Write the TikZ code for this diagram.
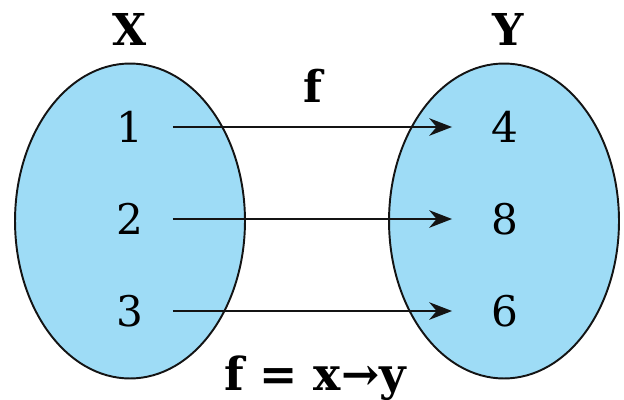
\documentclass[tikz,border=0pt]{standalone}
\usepackage{fontspec}
\setmainfont{DejaVu Serif}
\usepackage{xcolor}
\usepackage{tikz}
\usetikzlibrary{shapes.geometric, arrows.meta, positioning}
\definecolor{setblue}{RGB}{158,220,246}
\definecolor{mydark}{RGB}{20,20,20}
\tikzset{
  setnode/.style={ellipse, draw=mydark, fill=setblue, line width=1.1pt,
    minimum width=4.6cm, minimum height=6.3cm, inner sep=0pt},
  elem/.style={font=\fontsize{24}{28}\selectfont, inner sep=0pt},
  setlabel/.style={font=\fontsize{25}{30}\selectfont\bfseries, inner sep=0pt},
  maparrow/.style={-{Stealth[length=13pt, width=10pt]}, line width=1.1pt, color=mydark,
    shorten <=0.86cm, shorten >=1.06cm}
}

\begin{document}
\begin{tikzpicture}[x=0.02cm, y=-0.02cm]
  \useasboundingbox (0,0) rectangle (624,399);
  \node[setnode] (setX) at (130,221) {};
  \node[setnode] (setY) at (504,221) {};

  \node[setlabel] (lblX) at (130,29) {X};
  \node[setlabel] (lblY) at (508,29) {Y};
  \node[setlabel] (lblf) at (313,86) {f};

  % domain and codomain elements
  \node[elem] (a1) at (130,127) {1};
  \node[elem] (a2) at (130,219) {2};
  \node[elem] (a3) at (130,311) {3};
  \node[elem] (b4) at (505,127) {4};
  \node[elem] (b8) at (505,219) {8};
  \node[elem] (b6) at (505,311) {6};

  \draw[maparrow] (a1.center) -- (b4.center);
  \draw[maparrow] (a2.center) -- (b8.center);
  \draw[maparrow] (a3.center) -- (b6.center);

  \node[setlabel, font=\fontsize{26}{30}\selectfont\bfseries] (rule) at (315,378) {f = x→y};
\end{tikzpicture}
\end{document}
